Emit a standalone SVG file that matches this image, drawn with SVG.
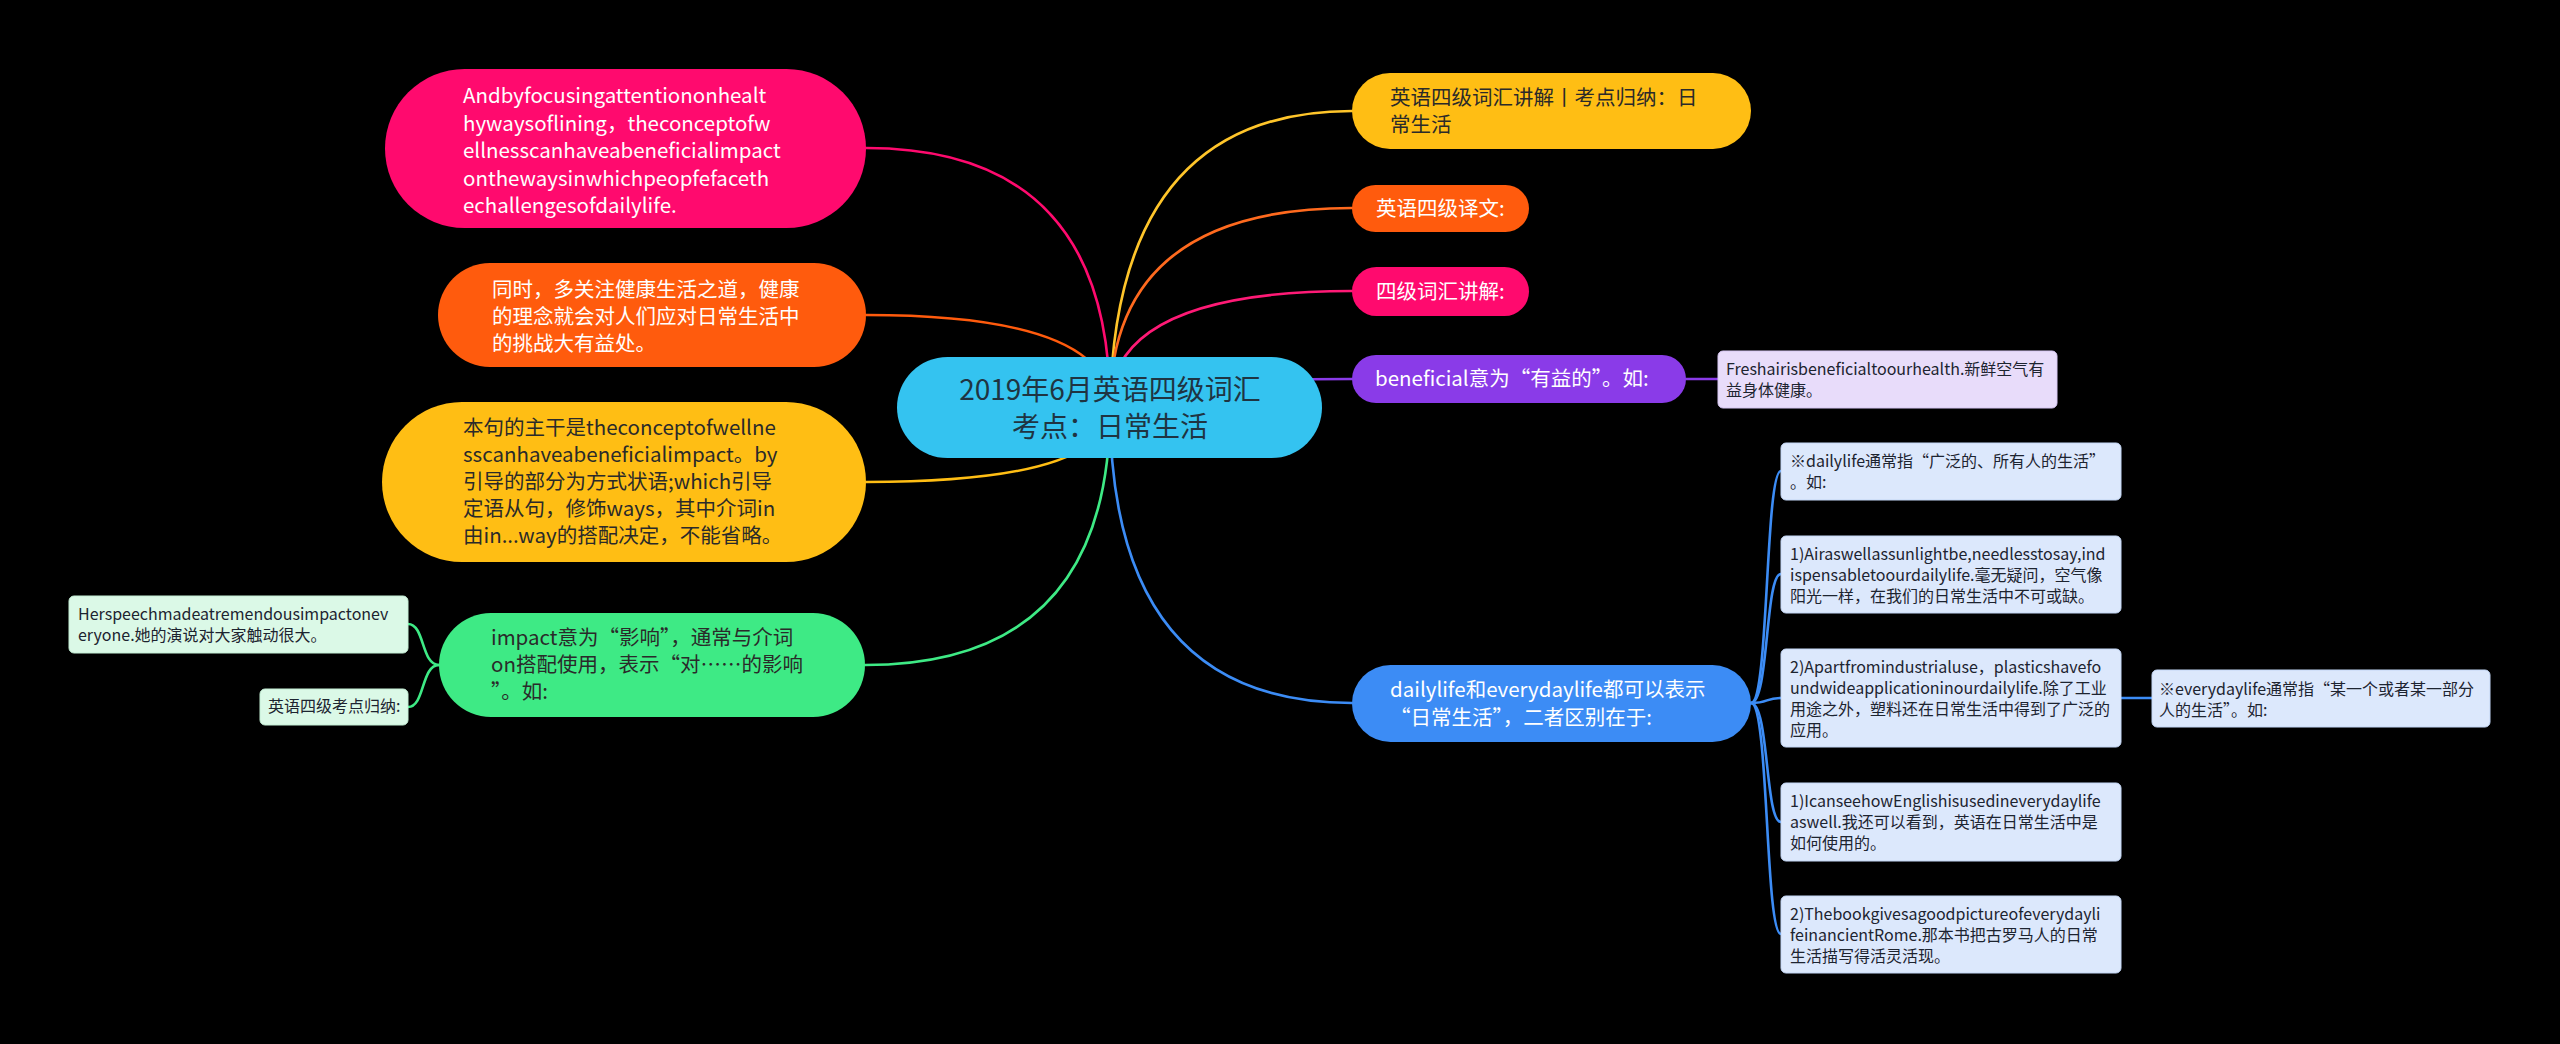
<svg xmlns="http://www.w3.org/2000/svg" width="2560" height="1044" viewBox="0 0 2560 1044">
<style>
text{font-family:"Noto Sans CJK SC","Noto Sans",sans-serif;}
.c{fill:none;stroke-width:2.6;stroke-linecap:round;}
.big{font-size:20.5px;}
.sm{font-size:16px;fill:#1d2430;}
.w{fill:#ffffff;}
.d{fill:#2a2a2a;}
.sub{stroke-width:1;}
</style>
<rect x="0" y="0" width="2560" height="1044" fill="#000000"/>
<g id="connectors">
  <path class="c" stroke="#FF0A6E" d="M1110,407 Q1110,148 866,148"/>
  <path class="c" stroke="#FF5B0D" d="M1110,407 Q1110,315 866,315"/>
  <path class="c" stroke="#FFBE14" d="M1110,407 Q1110,482 866,482"/>
  <path class="c" stroke="#3EEA85" d="M1110,407 Q1110,665 865,665"/>
  <path class="c" stroke="#FFC52A" d="M1110,407 Q1115,111 1352,111"/>
  <path class="c" stroke="#FF6A1E" d="M1110,407 Q1110,208 1352,208"/>
  <path class="c" stroke="#FF1A76" d="M1110,407 Q1110,291 1352,291"/>
  <path class="c" stroke="#8A3BE8" d="M1110,407 Q1110,379 1352,379"/>
  <path class="c" stroke="#3C8CF5" d="M1110,407 Q1110,703 1352,703"/>
  <path class="c" stroke="#8A3BE8" d="M1686,379 L1718,379"/>
  <path class="c" stroke="#3C8CF5" d="M1751,703 C1769,703 1765,471 1781,471"/>
  <path class="c" stroke="#3C8CF5" d="M1751,703 C1769,703 1765,574 1781,574"/>
  <path class="c" stroke="#3C8CF5" d="M1751,703 C1769,703 1765,698 1781,698"/>
  <path class="c" stroke="#3C8CF5" d="M1751,703 C1769,703 1765,822 1781,822"/>
  <path class="c" stroke="#3C8CF5" d="M1751,703 C1769,703 1765,934 1781,934"/>
  <path class="c" stroke="#3C8CF5" d="M2121,698 L2152,698"/>
  <path class="c" stroke="#3EEA85" d="M439,665 C421,665 425,624 408,624"/>
  <path class="c" stroke="#3EEA85" d="M439,665 C421,665 425,707 408,707"/>
</g>
<g id="n-pink-left">
  <rect x="385" y="69" width="481" height="159" rx="79.5" fill="#FF0A6E"/>
  <text class="big w"><tspan x="463" y="103">Andbyfocusingattentiononhealt</tspan><tspan x="463" y="130.5">hywaysoflining，theconceptofw</tspan><tspan x="463" y="158">ellnesscanhaveabeneficialimpact</tspan><tspan x="463" y="185.5">onthewaysinwhichpeopfefaceth</tspan><tspan x="463" y="213">echallengesofdailylife.</tspan></text>
</g>
<g id="n-orange-left">
  <rect x="438" y="263" width="428" height="104" rx="52" fill="#FF5B0D"/>
  <text class="big w"><tspan x="492" y="297">同时，多关注健康生活之道，健康</tspan><tspan x="492" y="324">的理念就会对人们应对日常生活中</tspan><tspan x="492" y="351">的挑战大有益处。</tspan></text>
</g>
<g id="n-yellow-left">
  <rect x="382" y="402" width="484" height="160" rx="80" fill="#FFBE14"/>
  <text class="big d"><tspan x="463" y="435">本句的主干是theconceptofwellne</tspan><tspan x="463" y="462">sscanhaveabeneficialimpact。by</tspan><tspan x="463" y="489">引导的部分为方式状语;which引导</tspan><tspan x="463" y="516">定语从句，修饰ways，其中介词in</tspan><tspan x="463" y="543">由in...way的搭配决定，不能省略。</tspan></text>
</g>
<g id="n-green-left">
  <rect x="439" y="613" width="426" height="104" rx="52" fill="#3EEA85"/>
  <text class="big d"><tspan x="491" y="645">impact意为“影响”，通常与介词</tspan><tspan x="491" y="672">on搭配使用，表示“对……的影响</tspan><tspan x="491" y="699">”。如:</tspan></text>
</g>
<g id="n-green-sub1">
  <rect x="69" y="596" width="339" height="57" rx="5" fill="#DBF9E7" stroke="#c4eed5" class="sub"/>
  <text class="sm"><tspan x="78" y="620">Herspeechmadeatremendousimpactonev</tspan><tspan x="78" y="641">eryone.她的演说对大家触动很大。</tspan></text>
</g>
<g id="n-green-sub2">
  <rect x="260" y="689" width="148" height="36" rx="5" fill="#DBF9E7" stroke="#c4eed5" class="sub"/>
  <text class="sm" x="268" y="712">英语四级考点归纳:</text>
</g>
<g id="n-center">
  <rect x="897" y="357" width="425" height="101" rx="50.5" fill="#34C3F0"/>
  <text font-size="28" fill="#1f3442" text-anchor="middle"><tspan x="1110" y="400">2019年6月英语四级词汇</tspan><tspan x="1110" y="437">考点：日常生活</tspan></text>
</g>
<g id="n-yellow-right">
  <rect x="1352" y="73" width="399" height="76" rx="38" fill="#FFBE14"/>
  <text class="big d"><tspan x="1390" y="105">英语四级词汇讲解丨考点归纳：日</tspan><tspan x="1390" y="132">常生活</tspan></text>
</g>
<g id="n-orange-right">
  <rect x="1352" y="185" width="177" height="47" rx="23.5" fill="#FF5B0D"/>
  <text class="big w" x="1376" y="216">英语四级译文:</text>
</g>
<g id="n-pink-right">
  <rect x="1352" y="267" width="177" height="49" rx="24.5" fill="#FF0A6E"/>
  <text class="big w" x="1376" y="299">四级词汇讲解:</text>
</g>
<g id="n-purple">
  <rect x="1352" y="355" width="334" height="48" rx="24" fill="#8A3BE8"/>
  <text class="big w" x="1375" y="386">beneficial意为“有益的”。如:</text>
</g>
<g id="n-lavender">
  <rect x="1718" y="351" width="339" height="57" rx="5" fill="#E8DCFA" stroke="#d6c6f2" class="sub"/>
  <text class="sm"><tspan x="1726" y="375">Freshairisbeneficialtoourhealth.新鲜空气有</tspan><tspan x="1726" y="396">益身体健康。</tspan></text>
</g>
<g id="n-blue">
  <rect x="1352" y="665" width="399" height="77" rx="38.5" fill="#3C8CF5"/>
  <text class="big w"><tspan x="1390" y="697">dailylife和everydaylife都可以表示</tspan><tspan x="1390" y="725">“日常生活”，二者区别在于:</tspan></text>
</g>
<g id="n-blue-a">
  <rect x="1781" y="443" width="340" height="57" rx="5" fill="#DCE8FC" stroke="#c3d6f5" class="sub"/>
  <text class="sm"><tspan x="1790" y="467">※dailylife通常指“广泛的、所有人的生活”</tspan><tspan x="1790" y="488">。如:</tspan></text>
</g>
<g id="n-blue-b">
  <rect x="1781" y="536" width="340" height="77" rx="5" fill="#DCE8FC" stroke="#c3d6f5" class="sub"/>
  <text class="sm"><tspan x="1790" y="560">1)Airaswellassunlightbe,needlesstosay,ind</tspan><tspan x="1790" y="581">ispensabletoourdailylife.毫无疑问，空气像</tspan><tspan x="1790" y="602">阳光一样，在我们的日常生活中不可或缺。</tspan></text>
</g>
<g id="n-blue-c">
  <rect x="1781" y="649" width="340" height="98" rx="5" fill="#DCE8FC" stroke="#c3d6f5" class="sub"/>
  <text class="sm"><tspan x="1790" y="673">2)Apartfromindustrialuse，plasticshavefo</tspan><tspan x="1790" y="694">undwideapplicationinourdailylife.除了工业</tspan><tspan x="1790" y="715">用途之外，塑料还在日常生活中得到了广泛的</tspan><tspan x="1790" y="736">应用。</tspan></text>
</g>
<g id="n-blue-d">
  <rect x="1781" y="783" width="340" height="78" rx="5" fill="#DCE8FC" stroke="#c3d6f5" class="sub"/>
  <text class="sm"><tspan x="1790" y="807">1)IcanseehowEnglishisusedineverydaylife</tspan><tspan x="1790" y="828">aswell.我还可以看到，英语在日常生活中是</tspan><tspan x="1790" y="849">如何使用的。</tspan></text>
</g>
<g id="n-blue-e">
  <rect x="1781" y="896" width="340" height="77" rx="5" fill="#DCE8FC" stroke="#c3d6f5" class="sub"/>
  <text class="sm"><tspan x="1790" y="920">2)Thebookgivesagoodpictureofeverydayli</tspan><tspan x="1790" y="941">feinancientRome.那本书把古罗马人的日常</tspan><tspan x="1790" y="962">生活描写得活灵活现。</tspan></text>
</g>
<g id="n-blue-f">
  <rect x="2152" y="670" width="338" height="57" rx="5" fill="#DCE8FC" stroke="#c3d6f5" class="sub"/>
  <text class="sm"><tspan x="2159" y="695">※everydaylife通常指“某一个或者某一部分</tspan><tspan x="2159" y="716">人的生活”。如:</tspan></text>
</g>
</svg>
